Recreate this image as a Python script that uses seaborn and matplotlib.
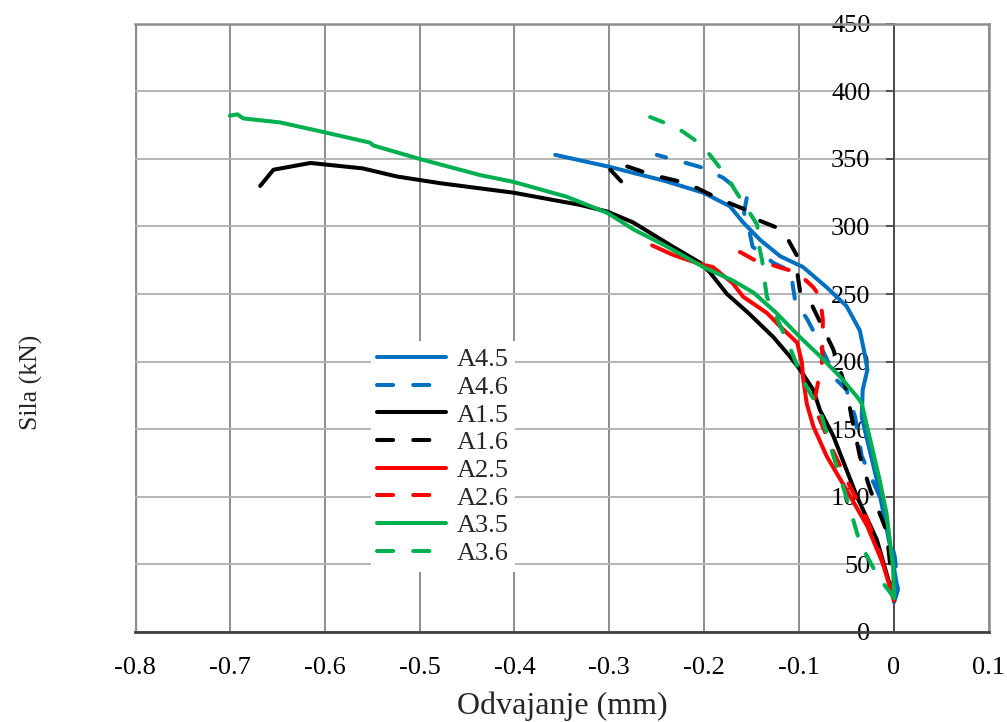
import numpy as np
import pandas as pd
import matplotlib
matplotlib.use("Agg")
import matplotlib.pyplot as plt
from matplotlib.lines import Line2D
import seaborn as sns

# ---------------- data ----------------
series = ["A4.5", "A4.6", "A1.5", "A1.6", "A2.5", "A2.6", "A3.5", "A3.6"]
colors = ["#0070C0", "#0070C0", "#000000", "#000000",
          "#FF0000", "#FF0000", "#00B050", "#00B050"]
dashed = [False, True, False, True, False, True, False, True]

a45_x = [0.000, 0.004, -0.004, -0.018, -0.034, -0.033, -0.028, -0.031, -0.036, -0.050,
         -0.071, -0.096, -0.120, -0.141, -0.159, -0.173, -0.201, -0.243, -0.299, -0.357]
a45_y = [22, 31, 63, 112, 159, 179, 194, 206, 223, 241,
         255, 270, 278, 290, 303, 315, 325, 334, 344, 353]

a46_x = [0.000, 0.004, 0.001, -0.015, -0.034, -0.041, -0.050, -0.060, -0.086, -0.092,
         -0.104, -0.107, -0.106, -0.127, -0.149, -0.152, -0.158, -0.155, -0.180, -0.204, -0.250]
a46_y = [22, 31, 55, 100, 130, 159, 179, 186, 224, 232,
         244, 258, 266, 273, 285, 295, 310, 322, 336, 344, 353]

a15_x = [0.000, -0.018, -0.039, -0.064, -0.078, -0.085, -0.099, -0.110, -0.127, -0.152,
         -0.176, -0.194, -0.204, -0.233, -0.275, -0.302, -0.331, -0.401, -0.478, -0.524,
         -0.560, -0.615, -0.654, -0.668]
a15_y = [24, 68, 100, 145, 164, 179, 194, 204, 218, 235,
         250, 266, 273, 285, 303, 311, 316, 325, 332, 337,
         343, 347, 342, 330]

a16_x = [0.000, -0.008, -0.025, -0.036, -0.045, -0.050, -0.064, -0.088, -0.099, -0.102,
         -0.102, -0.113, -0.123, -0.144, -0.155, -0.183, -0.218, -0.254, -0.292, -0.299, -0.287]
a16_y = [24, 75, 105, 130, 160, 179, 209, 244, 252, 266,
         278, 292, 299, 305, 312, 320, 332, 338, 347, 342, 333]

a25_x = [0.000, -0.012, -0.028, -0.050, -0.071, -0.085, -0.092, -0.096, -0.097, -0.102,
         -0.120, -0.134, -0.159, -0.170, -0.191, -0.204, -0.233, -0.255]
a25_y = [23, 51, 78, 105, 130, 152, 169, 189, 199, 214,
         226, 236, 248, 258, 270, 272, 279, 286]

a26_x = [0.000, -0.004, -0.015, -0.028, -0.046, -0.065, -0.080, -0.085, -0.083, -0.076,
         -0.075, -0.075, -0.078, -0.085, -0.102, -0.117, -0.131, -0.144, -0.162, -0.176]
a26_y = [24, 33, 58, 83, 107, 135, 160, 169, 174, 199,
         224, 231, 248, 255, 266, 269, 272, 274, 281, 283]

a35_x = [0.000, -0.001, -0.008, -0.015, -0.025, -0.034, -0.039, -0.057, -0.078, -0.099,
         -0.124, -0.148, -0.170, -0.201, -0.239, -0.275, -0.302, -0.345, -0.401, -0.436,
         -0.500, -0.549, -0.552, -0.602, -0.647, -0.686, -0.692, -0.700]
a35_y = [25, 48, 88, 112, 142, 169, 174, 189, 204, 218,
         236, 251, 260, 270, 285, 298, 310, 322, 333, 338,
         350, 360, 362, 370, 377, 380, 383, 382]

a36_x = [0.000, -0.004, -0.017, -0.036, -0.046, -0.057, -0.067, -0.078, -0.096, -0.110,
         -0.124, -0.134, -0.136, -0.139, -0.143, -0.144, -0.152, -0.164, -0.173, -0.183,
         -0.194, -0.208, -0.222, -0.239, -0.257]
a36_y = [25, 29, 41, 66, 90, 115, 137, 164, 186, 211,
         233, 248, 258, 275, 288, 301, 310, 323, 333, 343,
         353, 363, 370, 376, 381]

xs = [a45_x, a46_x, a15_x, a16_x, a25_x, a26_x, a35_x, a36_x]
ys = [a45_y, a46_y, a15_y, a16_y, a25_y, a26_y, a35_y, a36_y]

x_ticks = [-0.8, -0.7, -0.6, -0.5, -0.4, -0.3, -0.2, -0.1, 0, 0.1]
x_tick_labels = ["-0.8", "-0.7", "-0.6", "-0.5", "-0.4", "-0.3", "-0.2", "-0.1", "0", "0.1"]
y_ticks = [0, 50, 100, 150, 200, 250, 300, 350, 400, 450]

# ---------------- build long-form frame ----------------
frames = []
for name, x, y in zip(series, xs, ys):
    frames.append(pd.DataFrame({"series": name, "x": x, "y": y}))
df = pd.concat(frames, ignore_index=True)

# ---------------- style ----------------
sns.set_theme(style="white")
plt.rcParams["font.family"] = ["Liberation Serif", "DejaVu Serif"]
FS = 19
LW = 2.9
DASH = (4.0, 5.0)

fig = plt.figure(figsize=(10.07, 7.22), dpi=100)
ax = fig.add_axes([0.134, 0.125, 0.848, 0.842])

palette = dict(zip(series, colors))
dashes = {s: (DASH if d else "") for s, d in zip(series, dashed)}

sns.lineplot(data=df, x="x", y="y", hue="series", style="series",
             hue_order=series, style_order=series,
             palette=palette, dashes=dashes, sort=False, estimator=None,
             linewidth=LW, legend=False, ax=ax)
for ln in ax.get_lines():
    ln.set_dash_capstyle("round")
    ln.set_solid_capstyle("round")
    ln.set_solid_joinstyle("round")
    ln.set_dash_joinstyle("round")
    ln.set_zorder(3)

ax.set_xlim(-0.8, 0.1)
ax.set_ylim(0, 450)
ax.set_xticks(x_ticks)
ax.set_xticklabels(x_tick_labels)
ax.set_yticks(y_ticks)

# grid
ax.grid(True, axis="x", color="#8c8c8c", linewidth=1.4, zorder=0)
ax.grid(True, axis="y", color="#b4b4b4", linewidth=1.4, zorder=0)
ax.set_axisbelow(True)

# spines: y-axis at x = 0, frame in gray
ax.spines["left"].set_position(("data", 0))
ax.spines["left"].set_color("#404040")
ax.spines["left"].set_linewidth(1.2)
ax.spines["bottom"].set_color("#404040")
ax.spines["bottom"].set_linewidth(2.0)
for s in ["top", "right"]:
    ax.spines[s].set_color("#8c8c8c")
    ax.spines[s].set_linewidth(1.8)
ax.axvline(-0.8, color="#8c8c8c", linewidth=2.4, zorder=0.5)

ax.tick_params(axis="both", which="both", direction="out", length=6, width=1.2,
               color="#404040", labelsize=FS, labelcolor="black")
ax.tick_params(axis="x", pad=12)
ax.tick_params(axis="y", pad=11, left=True)
for lab in ax.get_yticklabels():
    lab.set_zorder(4)

ax.set_xlabel("Odvajanje (mm)", fontsize=23)
ax.set_ylabel("Sila (kN)", fontsize=18.5)
ax.xaxis.set_label_coords(0.5, -0.098)
ax.yaxis.set_label_coords(-0.108, 0.41)

# legend
handles = [Line2D([0], [0], color=c, linewidth=LW,
                  linestyle=((0, DASH) if d else "-"),
                  dash_capstyle="round", solid_capstyle="round")
           for c, d in zip(colors, dashed)]
leg = ax.legend(handles, series, loc="upper left", bbox_to_anchor=(0.276, 0.478),
                frameon=True, facecolor="white", edgecolor="none", framealpha=1,
                fancybox=False, fontsize=FS, handlelength=2.6, handletextpad=0.4,
                labelspacing=0.16, borderpad=0.25, borderaxespad=0)
leg.set_zorder(5)

fig.savefig("out.png", dpi=100)
